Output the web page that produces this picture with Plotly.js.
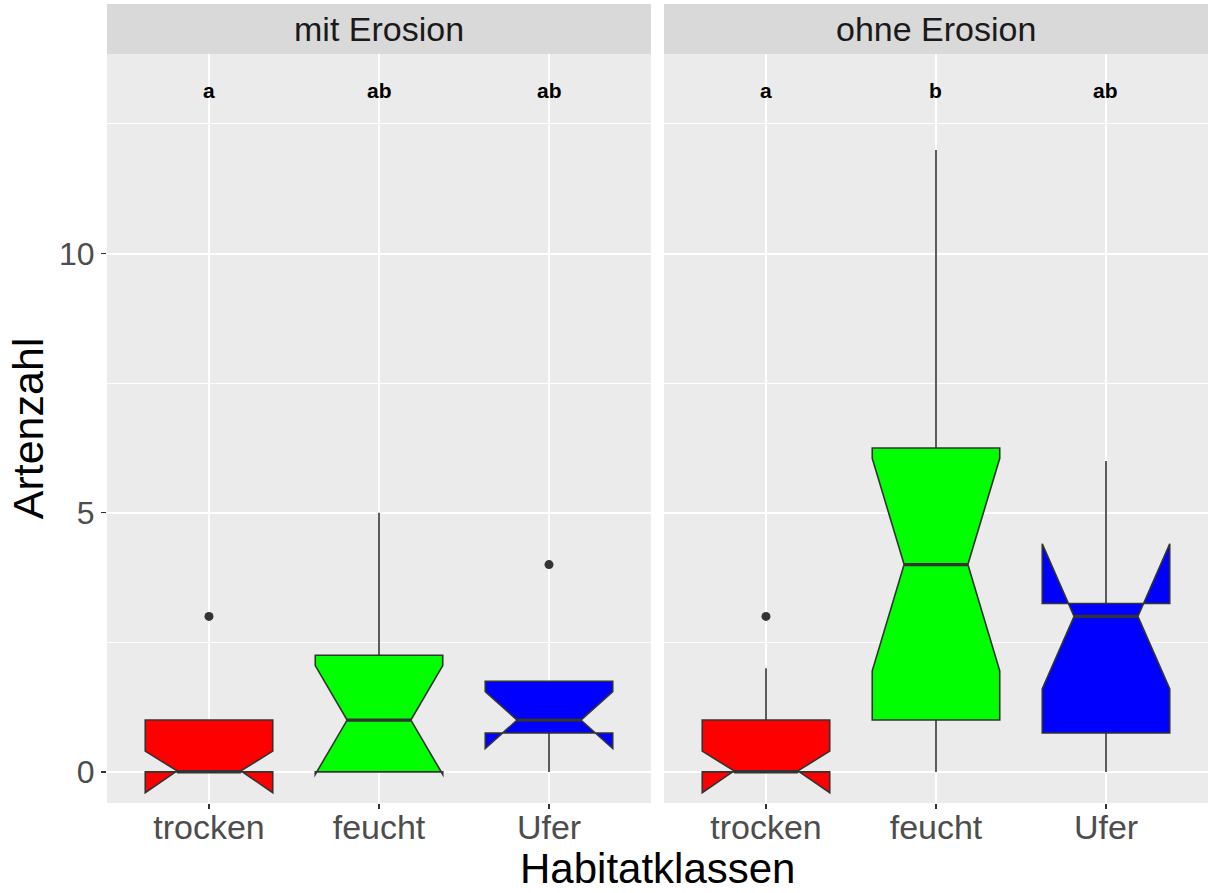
<!DOCTYPE html>
<html>
<head>
<meta charset="utf-8">
<script src="https://cdn.plot.ly/plotly-3.0.1.min.js"></script>
<style>
  html, body { margin: 0; padding: 0; background: #ffffff; }
  #chart { width: 1211px; height: 893px; }
</style>
</head>
<body>
<div id="chart"></div>
<script>
// Habitat classes on the x axis of each facet
const habitats = ['trocken', 'feucht', 'Ufer'];
const facetLabels = ['mit Erosion', 'ohne Erosion'];

// Box statistics, facet "mit Erosion"
const q1Mit = [0, 0, 0.75];
const medianMit = [0, 1, 1];
const q3Mit = [1, 2.25, 1.75];
const lowerMit = [0, 0, 0];
const upperMit = [1, 5, 1.75];
const notchMit = [0.4, 1.05, 0.55];
const outliersMit = [[3], [], [4]];
const lettersMit = ['a', 'ab', 'ab'];

// Box statistics, facet "ohne Erosion"
const q1Ohne = [0, 1, 0.75];
const medianOhne = [0, 4, 3];
const q3Ohne = [1, 6.25, 3.25];
const lowerOhne = [0, 0, 0];
const upperOhne = [2, 12, 6];
const notchOhne = [0.4, 2.05, 1.4];
const outliersOhne = [[3], [], []];
const lettersOhne = ['a', 'b', 'ab'];

// Height at which the group letters are written
const letterLevel = 13.15;

const fillColors = ['#FF0000', '#00FF00', '#0000FF'];
const FONT = 'Liberation Sans, Arial, Helvetica, sans-serif';
const OUTLINE = '#333333';
const BOX_WIDTH = 0.75;
const NOTCH_WIDTH = 0.25;
const LINE_W = 1.6;

const facets = [
  {xa: 'x', ya: 'y', q1: q1Mit, med: medianMit, q3: q3Mit, lo: lowerMit, hi: upperMit,
   notch: notchMit, out: outliersMit, letters: lettersMit},
  {xa: 'x2', ya: 'y2', q1: q1Ohne, med: medianOhne, q3: q3Ohne, lo: lowerOhne, hi: upperOhne,
   notch: notchOhne, out: outliersOhne, letters: lettersOhne}
];

const traces = [];
const annotations = [];
// half length of the median segment inside the notch
const medianHalf = BOX_WIDTH / 2 * (1 - 2 * NOTCH_WIDTH);

facets.forEach(function (f) {
  const wx = [], wy = [], mx = [], my = [], ox = [], oy = [];

  habitats.forEach(function (h, i) {
    traces.push({
      type: 'box',
      xaxis: f.xa, yaxis: f.ya,
      x: [i],
      q1: [f.q1[i]], median: [f.med[i]], q3: [f.q3[i]],
      lowerfence: [f.q1[i]], upperfence: [f.q3[i]],
      notchspan: [f.notch[i]],
      notched: true,
      notchwidth: NOTCH_WIDTH,
      width: BOX_WIDTH,
      whiskerwidth: 0,
      showwhiskers: false,
      boxpoints: false,
      fillcolor: fillColors[i],
      line: {color: OUTLINE, width: LINE_W},
      name: h,
      showlegend: false,
      hoverinfo: 'skip'
    });

    // whiskers: box hinge to fence
    wx.push(i, i, null, i, i, null);
    wy.push(f.q3[i], f.hi[i], null, f.q1[i], f.lo[i], null);

    // thicker median segment
    mx.push(i - medianHalf, i + medianHalf, null);
    my.push(f.med[i], f.med[i], null);

    // outlying observations
    f.out[i].forEach(function (v) { ox.push(i); oy.push(v); });

    // group letters above the boxes
    annotations.push({
      xref: f.xa, yref: f.ya, x: i, y: letterLevel,
      text: '<b>' + f.letters[i] + '</b>',
      showarrow: false,
      font: {family: FONT, size: 21, color: '#000000'},
      xanchor: 'center', yanchor: 'middle'
    });
  });

  traces.push({
    type: 'scatter', mode: 'lines', xaxis: f.xa, yaxis: f.ya,
    x: wx, y: wy, connectgaps: false,
    line: {color: OUTLINE, width: LINE_W},
    showlegend: false, hoverinfo: 'skip'
  });
  traces.push({
    type: 'scatter', mode: 'lines', xaxis: f.xa, yaxis: f.ya,
    x: mx, y: my, connectgaps: false,
    line: {color: OUTLINE, width: 3.2},
    showlegend: false, hoverinfo: 'skip'
  });
  traces.push({
    type: 'scatter', mode: 'markers', xaxis: f.xa, yaxis: f.ya,
    x: ox, y: oy,
    marker: {color: OUTLINE, size: 9},
    showlegend: false, hoverinfo: 'skip'
  });
});

// facet layout
const panelTop = 0.9374;
const leftDomain = [0, 0.4941];
const rightDomain = [0.5059, 1];

const xBase = {
  type: 'linear',
  range: [-0.6, 2.6],
  tickmode: 'array',
  tickvals: habitats.map(function (h, i) { return i; }),
  ticktext: habitats,
  showgrid: true, gridcolor: '#FFFFFF', gridwidth: 2,
  zeroline: false, showline: false,
  ticks: 'outside', ticklen: 5, tickwidth: 1.5, tickcolor: OUTLINE,
  ticklabelstandoff: -11,
  tickfont: {family: FONT, size: 34, color: '#4D4D4D'},
  fixedrange: true
};
const yBase = {
  range: [-0.6, 13.85],
  tickmode: 'array', tickvals: [0, 5, 10], ticktext: ['0', '5', '10'],
  showgrid: true, gridcolor: '#FFFFFF', gridwidth: 2,
  minor: {tickmode: 'array', tickvals: [2.5, 7.5, 12.5], showgrid: true,
          gridcolor: '#FFFFFF', gridwidth: 1, ticks: ''},
  zeroline: false, showline: false,
  fixedrange: true
};

const layout = {
  width: 1211, height: 893,
  margin: {l: 107, r: 3, t: 4, b: 90},
  paper_bgcolor: '#FFFFFF',
  plot_bgcolor: '#EBEBEB',
  showlegend: false,
  boxmode: 'overlay',
  font: {family: FONT},
  xaxis: Object.assign({}, xBase, {domain: leftDomain, anchor: 'y'}),
  xaxis2: Object.assign({}, xBase, {domain: rightDomain, anchor: 'y2'}),
  yaxis: Object.assign({}, yBase, {
    domain: [0, panelTop], anchor: 'x',
    ticks: 'outside', ticklen: 5, tickwidth: 1.5, tickcolor: OUTLINE,
    tickfont: {family: FONT, size: 32, color: '#4D4D4D'}
  }),
  yaxis2: Object.assign({}, yBase, {
    domain: [0, panelTop], anchor: 'x2', matches: 'y',
    showticklabels: false, ticks: ''
  }),
  shapes: [leftDomain, rightDomain].map(function (d) {
    return {
      type: 'rect', xref: 'paper', yref: 'paper',
      x0: d[0], x1: d[1], y0: panelTop, y1: 1,
      fillcolor: '#D9D9D9', line: {width: 0}, layer: 'below'
    };
  }),
  annotations: annotations.concat(
    [leftDomain, rightDomain].map(function (d, i) {
      return {
        xref: 'paper', yref: 'paper',
        x: (d[0] + d[1]) / 2, y: (panelTop + 1) / 2,
        text: facetLabels[i], showarrow: false,
        xanchor: 'center', yanchor: 'middle',
        font: {family: FONT, size: 34, color: '#1A1A1A'}
      };
    }),
    [
      {xref: 'paper', yref: 'paper', x: 0.5, y: -0.0825,
       text: 'Habitatklassen', showarrow: false,
       xanchor: 'center', yanchor: 'middle',
       font: {family: FONT, size: 42, color: '#000000'}},
      {xref: 'paper', yref: 'paper', x: -0.072, y: panelTop / 2,
       text: 'Artenzahl', showarrow: false, textangle: -90,
       xanchor: 'center', yanchor: 'middle',
       font: {family: FONT, size: 43, color: '#000000'}}
    ]
  )
};

Plotly.newPlot('chart', traces, layout, {displayModeBar: false, staticPlot: true});
</script>
</body>
</html>
